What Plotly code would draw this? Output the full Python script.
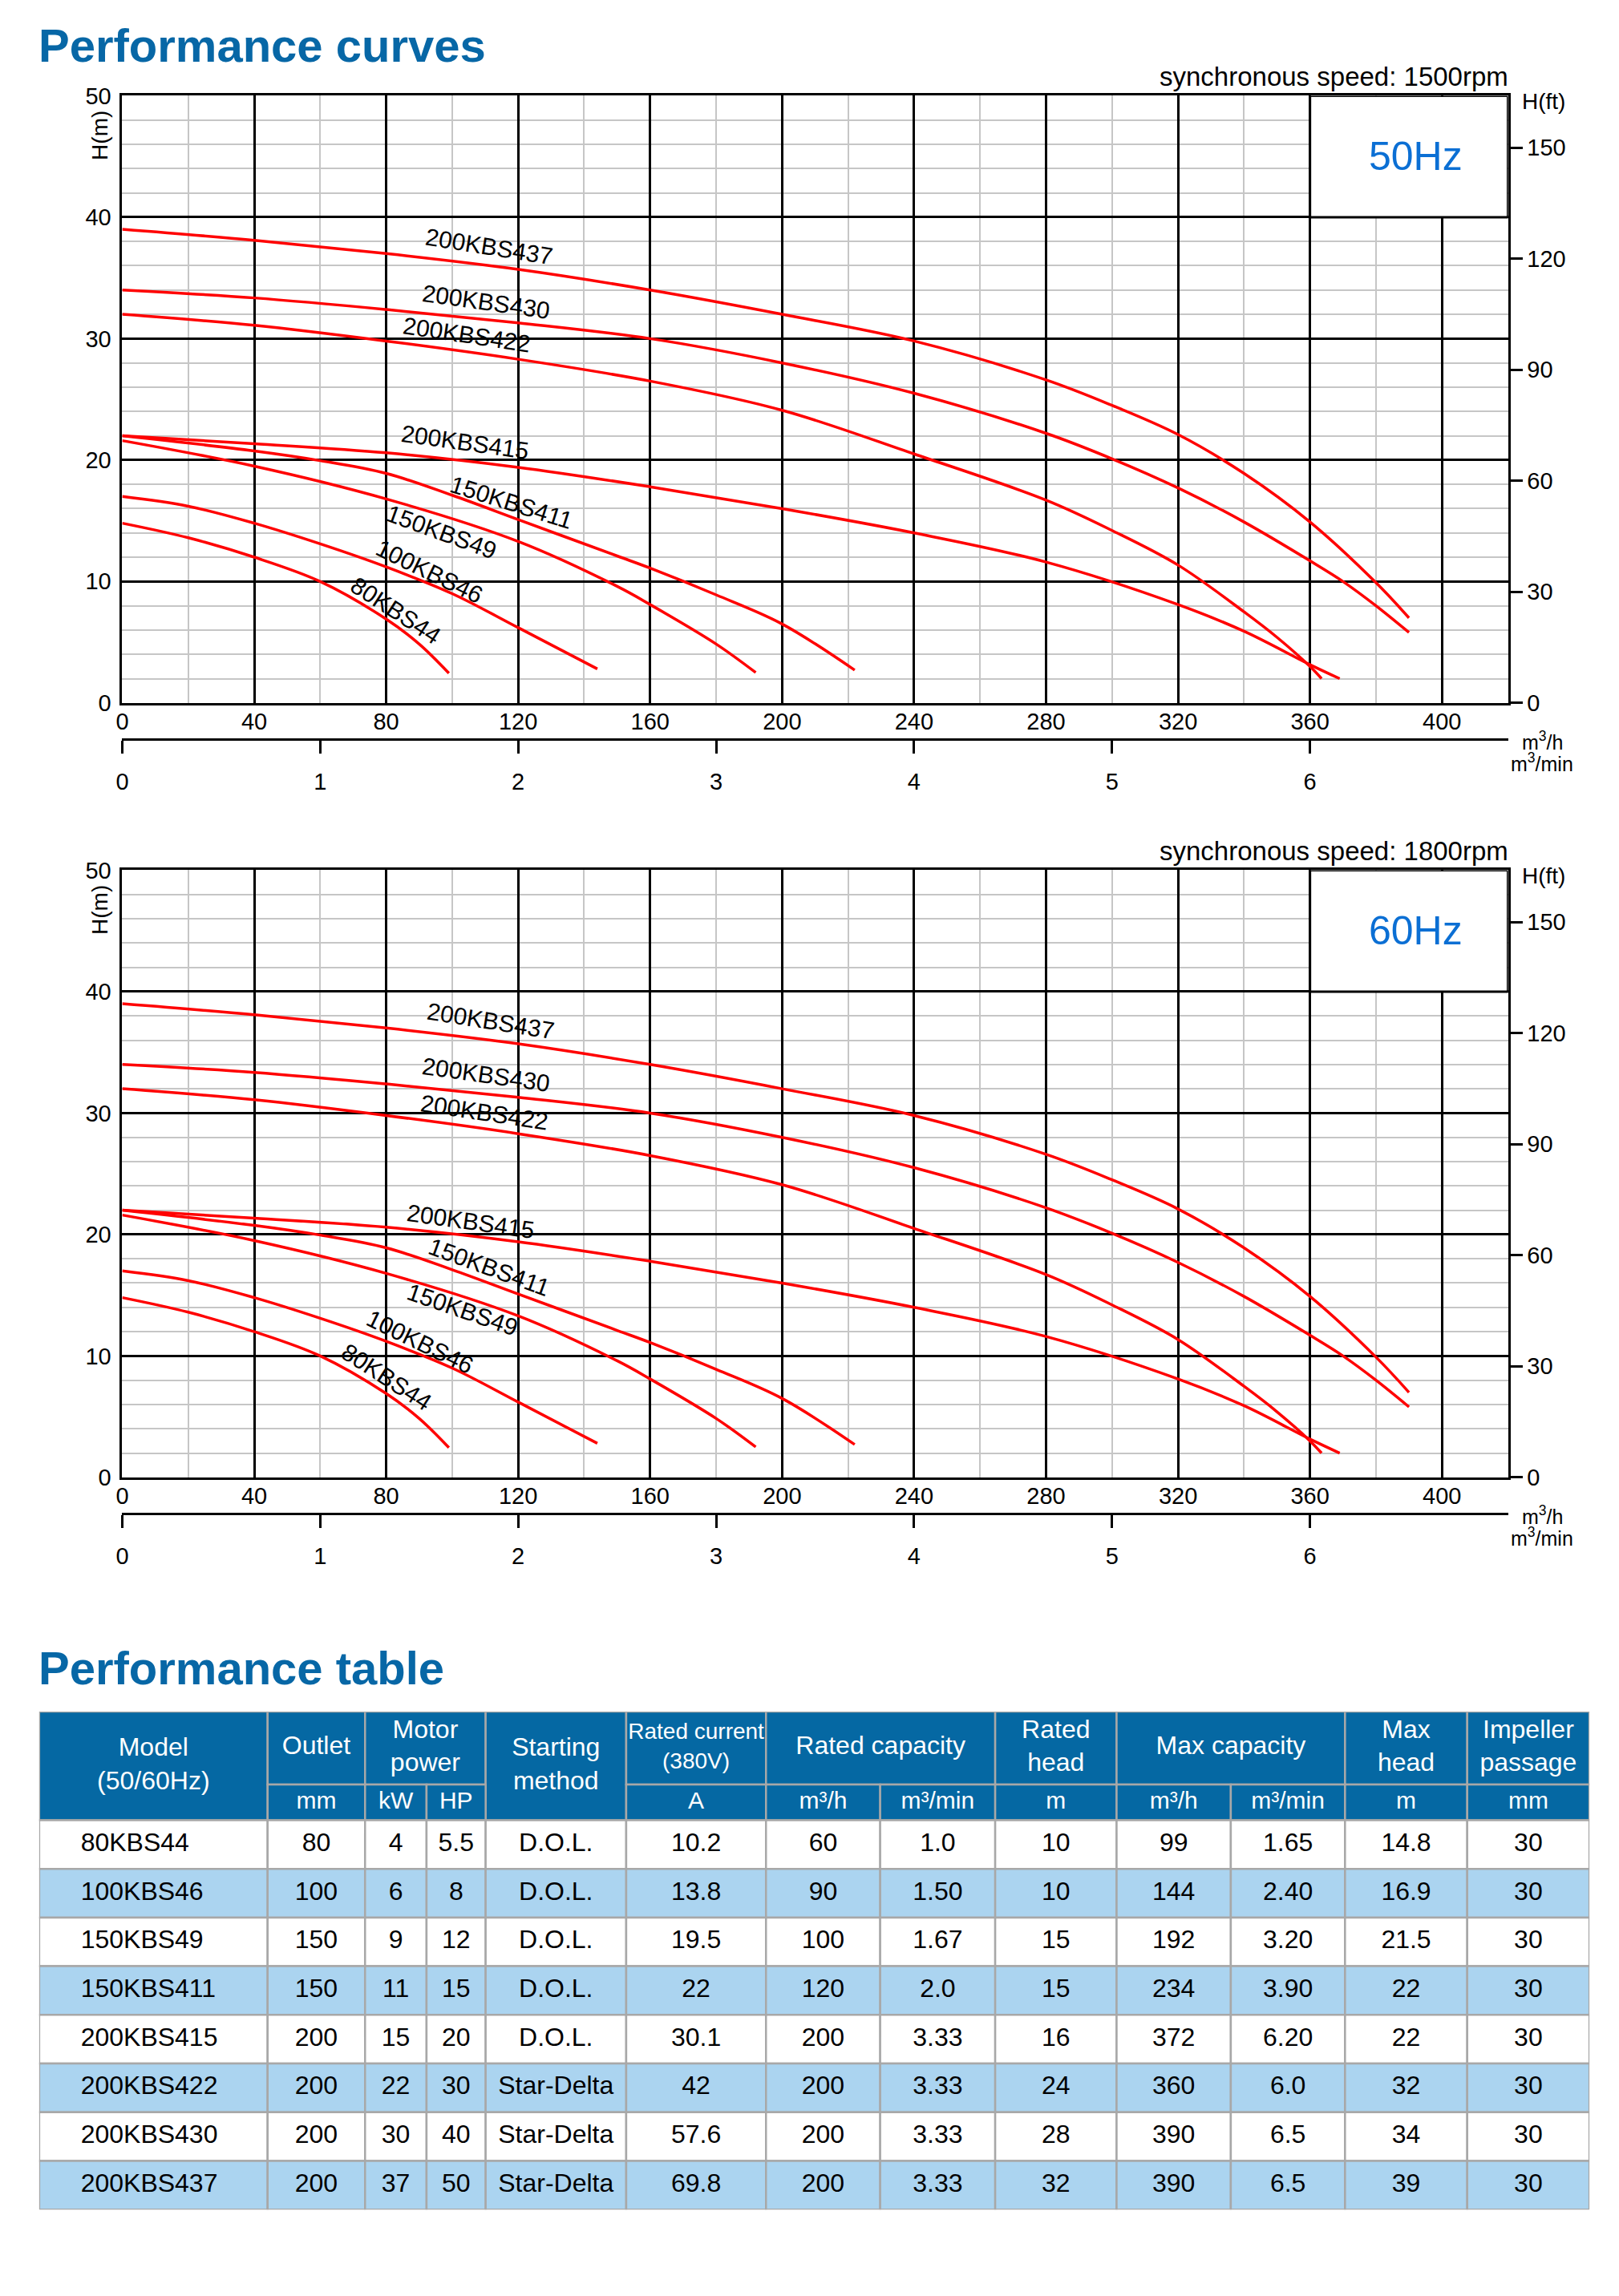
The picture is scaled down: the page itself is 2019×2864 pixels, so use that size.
import plotly.graph_objects as go

# ---------------- curve data: flow Q (m3/h) vs head H (m) ----------------
# the 50Hz and 60Hz sheets show the same curves
q_80KBS44 = [0, 20, 40, 60, 80, 90, 99]
h_80KBS44 = [14.8, 13.6, 12.0, 10.0, 6.9, 4.85, 2.45]

q_100KBS46 = [0, 20, 40, 60, 80, 100, 120, 144]
h_100KBS46 = [17.0, 16.2, 14.8, 13.1, 11.2, 9.0, 6.2, 2.8]

q_150KBS49 = [0, 40, 80, 120, 150, 160, 180, 192]
h_150KBS49 = [21.6, 19.5, 16.8, 13.3, 9.6, 8.1, 4.85, 2.5]

q_150KBS411 = [0, 40, 60, 80, 100, 120, 150, 160, 180, 200, 222]
h_150KBS411 = [22.0, 20.75, 19.95, 18.9, 17.1, 15.1, 12.1, 11.1, 8.9, 6.5, 2.7]

q_200KBS415 = [0, 40, 80, 120, 160, 200, 240, 280, 320, 340, 360, 369]
h_200KBS415 = [22.0, 21.35, 20.6, 19.4, 17.8, 16.0, 14.0, 11.6, 8.1, 5.9, 3.15, 2.0]

q_200KBS422 = [0, 40, 80, 120, 160, 200, 240, 280, 300, 320, 340, 350, 360, 363.5]
h_200KBS422 = [32.0, 31.1, 29.8, 28.3, 26.5, 24.1, 20.5, 16.7, 14.2, 11.35, 7.5, 5.4, 3.0, 2.0]

q_200KBS430 = [0, 40, 80, 120, 160, 200, 240, 280, 300, 320, 340, 360, 370, 380, 390]
h_200KBS430 = [34.0, 33.35, 32.4, 31.3, 30.0, 28.0, 25.5, 22.2, 20.1, 17.7, 14.9, 11.7, 10.0, 8.0, 5.8]

q_200KBS437 = [0, 40, 80, 120, 160, 200, 240, 280, 300, 320, 340, 360, 380, 390]
h_200KBS437 = [39.0, 38.1, 37.0, 35.7, 34.0, 32.0, 29.8, 26.6, 24.5, 22.1, 18.9, 14.9, 9.9, 7.0]

curves = {
    "80KBS44": (q_80KBS44, h_80KBS44),
    "100KBS46": (q_100KBS46, h_100KBS46),
    "150KBS49": (q_150KBS49, h_150KBS49),
    "150KBS411": (q_150KBS411, h_150KBS411),
    "200KBS415": (q_200KBS415, h_200KBS415),
    "200KBS422": (q_200KBS422, h_200KBS422),
    "200KBS430": (q_200KBS430, h_200KBS430),
    "200KBS437": (q_200KBS437, h_200KBS437),
}

# ---------------- table data ----------------
models = ["80KBS44", "100KBS46", "150KBS49", "150KBS411",
          "200KBS415", "200KBS422", "200KBS430", "200KBS437"]
outlet_mm = ["80", "100", "150", "150", "200", "200", "200", "200"]
power_kw = ["4", "6", "9", "11", "15", "22", "30", "37"]
power_hp = ["5.5", "8", "12", "15", "20", "30", "40", "50"]
starting = ["D.O.L."] * 5 + ["Star-Delta"] * 3
current_a = ["10.2", "13.8", "19.5", "22", "30.1", "42", "57.6", "69.8"]
rated_q_h = ["60", "90", "100", "120", "200", "200", "200", "200"]
rated_q_min = ["1.0", "1.50", "1.67", "2.0", "3.33", "3.33", "3.33", "3.33"]
rated_head = ["10", "10", "15", "15", "16", "24", "28", "32"]
max_q_h = ["99", "144", "192", "234", "372", "360", "390", "390"]
max_q_min = ["1.65", "2.40", "3.20", "3.90", "6.20", "6.0", "6.5", "6.5"]
max_head = ["14.8", "16.9", "21.5", "22", "22", "32", "34", "39"]
impeller_mm = ["30"] * 8

header_top = ["Model<br>(50/60Hz)", "Outlet", "Motor<br>power", "Starting<br>method",
              "Rated current<br>(380V)", "Rated capacity", "Rated<br>head",
              "Max capacity", "Max<br>head", "Impeller<br>passage"]
header_units = ["", "mm", "kW", "HP", "", "A", "m³/h", "m³/min", "m",
                "m³/h", "m³/min", "m", "mm"]

M_TO_FT = 3.28084
M3H_TO_M3MIN = 1 / 60

# ---------------- layout helpers ----------------
# the page body keeps its 8px margin, so the figure is made that much smaller
PAGE_W, PAGE_H, EDGE = 2019, 2864, 8
W, H = PAGE_W - 2 * EDGE, PAGE_H - 2 * EDGE
FONT = "Liberation Sans, Arial, sans-serif"
BLUE_TITLE = "#0767a6"
HEAD_FILL = "#0568a3"
ROW_BLUE = "#abd4f0"
GRID_MINOR = "#c6c6c6"


def fx(px):
    return (px - EDGE) / W


def fy(py):
    return 1 - (py - EDGE) / H


fig = go.Figure()
annotations = []
shapes = []

# label placement (x, y, angle) for each sheet
label_pos = [
    {"200KBS437": (111.2, 37.6, 9), "200KBS430": (110.3, 33.0, 8),
     "200KBS422": (104.5, 30.35, 8.5), "200KBS415": (104.0, 21.5, 8),
     "150KBS411": (117.9, 16.55, 17.5), "150KBS49": (96.8, 14.1, 20),
     "100KBS46": (93.0, 10.85, 26), "80KBS44": (82.9, 7.6, 33)},
    {"200KBS437": (111.7, 37.6, 9), "200KBS430": (110.3, 33.15, 8),
     "200KBS422": (109.8, 30.05, 8.5), "200KBS415": (105.5, 21.1, 8),
     "150KBS411": (111.2, 17.3, 20), "150KBS49": (103.1, 13.8, 19),
     "100KBS46": (90.1, 11.15, 26), "80KBS44": (80.1, 8.3, 33)},
]

sheets = [
    dict(dy=0, rpm="synchronous speed: 1500rpm", hz="50Hz",
         x="x", y="y", x2="x2", y2="y2",
         xname="xaxis", yname="yaxis", x2name="xaxis2", y2name="yaxis2"),
    dict(dy=977, rpm="synchronous speed: 1800rpm", hz="60Hz",
         x="x3", y="y3", x2="x4", y2="y4",
         xname="xaxis3", yname="yaxis3", x2name="xaxis4", y2name="yaxis4"),
]

layout_axes = {}
tick_font = dict(family=FONT, size=29, color="black")

for i, s in enumerate(sheets):
    dy = s["dy"]
    top, bottom = 104.5 + dy, 870.5 + dy

    for m in models:
        q, h = curves[m]
        fig.add_trace(go.Scatter(
            x=q, y=h, mode="lines", xaxis=s["x"], yaxis=s["y"],
            line=dict(color="#ff0000", width=3.5, shape="spline", smoothing=1.0),
            hoverinfo="skip", showlegend=False))
        lx, ly, ang = label_pos[i][m]
        annotations.append(dict(
            x=lx, y=ly, xref=s["x"], yref=s["y"], text=m, textangle=ang,
            showarrow=False, font=dict(family=FONT, size=30, color="black")))

    # same biggest curve in the secondary units, not drawn, so that the
    # H(ft) and m3/min scales get rendered
    q, h = curves["200KBS437"]
    fig.add_trace(go.Scatter(
        x=q, y=[v * M_TO_FT for v in h], mode="lines", xaxis=s["x"], yaxis=s["y2"],
        line=dict(width=0), opacity=0, hoverinfo="skip", showlegend=False))
    fig.add_trace(go.Scatter(
        x=[v * M3H_TO_M3MIN for v in q], y=h, mode="lines", xaxis=s["x2"], yaxis=s["y"],
        line=dict(width=0), opacity=0, hoverinfo="skip", showlegend=False))

    layout_axes[s["xname"]] = dict(
        domain=[fx(145), fx(1880)], anchor=s["y"], range=[0, 420],
        tick0=0, dtick=40, showgrid=True, gridcolor="black", gridwidth=3,
        minor=dict(tick0=0, dtick=20, showgrid=True, gridcolor=GRID_MINOR, gridwidth=2),
        showline=True, linecolor="black", linewidth=3, mirror=True,
        ticks="", zeroline=False, tickfont=tick_font, ticklabelstandoff=-5,
        fixedrange=True)
    layout_axes[s["yname"]] = dict(
        domain=[fy(bottom), fy(top)], anchor=s["x"], range=[0, 50],
        tick0=0, dtick=10, showgrid=True, gridcolor="black", gridwidth=3,
        minor=dict(tick0=0, dtick=2, showgrid=True, gridcolor=GRID_MINOR, gridwidth=2),
        showline=True, linecolor="black", linewidth=3, mirror=True,
        ticks="", zeroline=False, tickfont=tick_font, ticklabelstandoff=5,
        fixedrange=True)
    # head in feet on the right
    layout_axes[s["y2name"]] = dict(
        overlaying=s["y"], anchor=s["x"], side="right", range=[0, 50 * M_TO_FT],
        tickvals=[0, 30, 60, 90, 120, 150], ticks="outside", ticklen=15, tickwidth=3,
        tickcolor="black", showgrid=False, zeroline=False, showline=True,
        linecolor="black", linewidth=3, tickfont=tick_font, fixedrange=True)
    # flow in m3/min below
    layout_axes[s["x2name"]] = dict(
        overlaying=s["x"], anchor="free", position=fy(916 + dy), side="bottom",
        range=[0, 420 * M3H_TO_M3MIN], tickvals=[0, 1, 2, 3, 4, 5, 6],
        ticks="outside", ticklen=16, tickwidth=3, tickcolor="black",
        showgrid=False, zeroline=False, showline=True, linecolor="black", linewidth=3,
        tickfont=tick_font, ticklabelstandoff=10, fixedrange=True)

    # empty corner box holding the frequency
    shapes.append(dict(type="rect", xref=s["x"], yref=s["y"], x0=360, x1=420, y0=40, y1=50,
                       fillcolor="white", line=dict(color="black", width=3), layer="above"))
    annotations.append(dict(x=392, y=45, xref=s["x"], yref=s["y"], text=s["hz"],
                            showarrow=False, font=dict(family=FONT, size=50, color="#0b6fd4")))
    annotations.append(dict(x=fx(1882), y=fy(80 + dy), xref="paper", yref="paper",
                            xanchor="right", yanchor="middle", text=s["rpm"], showarrow=False,
                            font=dict(family=FONT, size=33, color="black")))
    annotations.append(dict(x=fx(1896), y=fy(112 + dy), xref="paper", yref="paper",
                            xanchor="left", yanchor="middle", text="H(ft)", showarrow=False,
                            font=dict(family=FONT, size=28, color="black")))
    annotations.append(dict(x=fx(117), y=fy(155 + dy), xref="paper", yref="paper",
                            xanchor="center", yanchor="middle", text="H(m)", textangle=-90,
                            showarrow=False, font=dict(family=FONT, size=28, color="black")))
    annotations.append(dict(x=fx(1923), y=fy(918 + dy), xref="paper", yref="paper",
                            xanchor="center", yanchor="middle", text="m<sup>3</sup>/h",
                            showarrow=False, font=dict(family=FONT, size=25, color="black")))
    annotations.append(dict(x=fx(1923), y=fy(946 + dy), xref="paper", yref="paper",
                            xanchor="center", yanchor="middle", text="m<sup>3</sup>/min",
                            showarrow=False, font=dict(family=FONT, size=25, color="black")))

# section titles
annotations.append(dict(x=fx(38), y=fy(41), xref="paper", yref="paper", xanchor="left",
                        yanchor="middle", text="<b>Performance curves</b>", showarrow=False,
                        font=dict(family=FONT, size=58, color=BLUE_TITLE)))
annotations.append(dict(x=fx(38), y=fy(2088), xref="paper", yref="paper", xanchor="left",
                        yanchor="middle", text="<b>Performance table</b>", showarrow=False,
                        font=dict(family=FONT, size=58, color=BLUE_TITLE)))

# ---------------- table drawn as cells on its own axes ----------------
col_w = [286, 122, 77, 74, 176, 175, 143, 144, 152, 143, 143, 153, 153]
col_x0 = [sum(col_w[:k]) for k in range(len(col_w))]
head1_h, head2_h, row_h = 92, 45, 61.4
# (first column, last column, spans both header rows) for each top header cell
header_span = [(0, 0, True), (1, 1, False), (2, 3, False), (4, 4, True), (5, 5, False),
               (6, 7, False), (8, 8, False), (9, 10, False), (11, 11, False), (12, 12, False)]
table_cols = [models, outlet_mm, power_kw, power_hp, starting, current_a, rated_q_h,
              rated_q_min, rated_head, max_q_h, max_q_min, max_head, impeller_mm]

cx0, cw, cyc, ch, cfill = [], [], [], [], []
tx, ty, tt, tsize, tcol = [], [], [], [], []


def add_cell(x0, w, y0, h, fill):
    cx0.append(x0)
    cw.append(w)
    cyc.append(y0 + h / 2)
    ch.append(h)
    cfill.append(fill)


for (c0, c1, both), label in zip(header_span, header_top):
    w = sum(col_w[c0:c1 + 1])
    h = head1_h + head2_h if both else head1_h
    add_cell(col_x0[c0], w, 0, h, HEAD_FILL)
    tx.append(col_x0[c0] + w / 2)
    ty.append(h / 2)
    tt.append(label)
    tsize.append(28 if "current" in label else 32)
    tcol.append("white")

for c, u in enumerate(header_units):
    if u:
        add_cell(col_x0[c], col_w[c], head1_h, head2_h, HEAD_FILL)
        tx.append(col_x0[c] + col_w[c] / 2)
        ty.append(head1_h + head2_h / 2)
        tt.append(u)
        tsize.append(30)
        tcol.append("white")

body_top = head1_h + head2_h
for r in range(len(models)):
    fill = "white" if r % 2 == 0 else ROW_BLUE
    y0 = body_top + r * row_h
    for c in range(len(col_w)):
        add_cell(col_x0[c], col_w[c], y0, row_h, fill)
        if c > 0:
            tx.append(col_x0[c] + col_w[c] / 2)
            ty.append(y0 + row_h / 2)
            tt.append(table_cols[c][r])
            tsize.append(32)
            tcol.append("black")

table_h = body_top + len(models) * row_h

fig.add_trace(go.Bar(
    orientation="h", x=cw, base=cx0, y=cyc, width=ch,
    marker=dict(color=cfill, line=dict(color="#a8a8a8", width=2.5)),
    xaxis="x5", yaxis="y5", hoverinfo="skip", showlegend=False))
fig.add_trace(go.Scatter(
    x=tx, y=ty, text=tt, mode="text", textposition="middle center",
    textfont=dict(family=FONT, size=tsize, color=tcol),
    xaxis="x5", yaxis="y5", hoverinfo="skip", showlegend=False, cliponaxis=False))
# model names sit left-aligned in their column
fig.add_trace(go.Scatter(
    x=[52] * len(models), y=[body_top + (r + 0.5) * row_h for r in range(len(models))],
    text=models, mode="text", textposition="middle right",
    textfont=dict(family=FONT, size=32, color="black"),
    xaxis="x5", yaxis="y5", hoverinfo="skip", showlegend=False, cliponaxis=False))

layout_axes["xaxis5"] = dict(domain=[fx(41), fx(41 + sum(col_w))], anchor="y5",
                             range=[0, sum(col_w)], visible=False, fixedrange=True)
layout_axes["yaxis5"] = dict(domain=[fy(2143 + table_h), fy(2143)], anchor="x5",
                             range=[table_h, 0], visible=False, fixedrange=True)

fig.update_layout(
    width=W, height=H, margin=dict(l=0, r=0, t=0, b=0),
    paper_bgcolor="white", plot_bgcolor="white",
    barmode="overlay", showlegend=False,
    font=dict(family=FONT, color="black"),
    annotations=annotations, shapes=shapes,
    **layout_axes)

fig.write_html("out.html", config={"displayModeBar": False})
